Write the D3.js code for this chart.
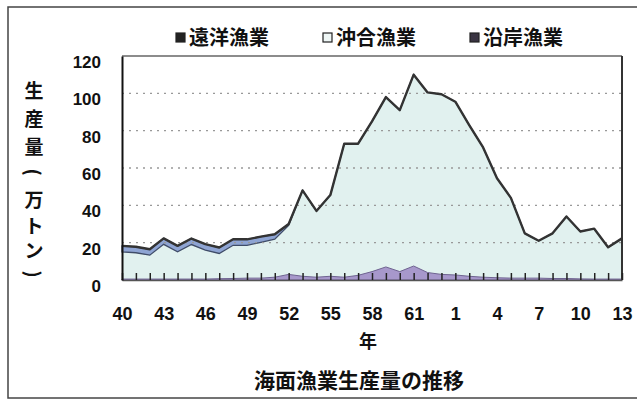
<!DOCTYPE html>
<html><head><meta charset="utf-8">
<script src="https://cdn.jsdelivr.net/npm/d3@7"></script>
<style>
  body { margin: 0; background: #fff; }
  text { font-family: "Liberation Sans", Arial, sans-serif; }
  .jp { font-family: "Noto Sans CJK JP", sans-serif; font-weight: 700; }
</style>
</head><body>
<svg id="chart" width="637" height="405"></svg>
<script>
// Fiscal years: Showa 40–63, then Heisei 1–13
const years = ["40","41","42","43","44","45","46","47","48","49","50","51","52","53","54","55","56","57","58","59","60","61","62","63",
               "1","2","3","4","5","6","7","8","9","10","11","12","13"];
const labelYears = ["40","43","46","49","52","55","58","61","1","4","7","10","13"];

// Production, 万トン
const distant  = [3.2,3.2,3.2,3.2,3.2,3.2,3.2,3.2,3.2,3.2,3.0,2.6,0.8,0,0,0,0,0,0,0,0,0,0,0,
                  0,0,0,0,0,0,0,0,0,0,0,0,0];
const offshore = [14.6,14.1,12.8,18.6,14.6,18.5,15.5,13.5,17.8,17.6,19.2,20.4,26.2,46,35.5,43.5,71.5,70.5,80.5,91,86.5,102.5,96.5,96.5,
                  92.8,81,69.5,53.3,43,24,20,24.2,33.2,25.4,27,17,21.8];
const coastal  = [0.5,0.5,0.5,0.5,0.5,0.5,0.5,0.7,0.8,1,1,1.5,3,2,1.5,2,1.5,2.5,4.5,7,4.5,7.5,4,3,
                  2.7,2,1.5,1.2,1,1,1,0.8,0.8,0.6,0.5,0.5,0.5];
const yTicks = [0,20,40,60,80,100,120];

const seriesNames = ["遠洋漁業","沖合漁業","沿岸漁業"];

const rows = years.map((yr, i) => ({ year: yr, coastal: coastal[i], offshore: offshore[i], distant: distant[i] }));

const svg = d3.select("#chart");
const plotL = 122, plotR = 622, plotT = 56, plotB = 280;

const x = d3.scalePoint().domain(years).range([plotL, plotR]);
const y = d3.scaleLinear().domain([0, 120]).range([plotB, plotT]);

// outer frame
svg.append("rect").attr("x", 8).attr("y", 7).attr("width", 640).attr("height", 391)
  .attr("fill", "none").attr("stroke", "#444").attr("stroke-width", 1.5);

// stacked layers: coastal at the bottom, offshore, then distant-water on top
const stack = d3.stack().keys(["coastal", "offshore", "distant"]);
const layers = stack(rows);
const area = d3.area().x(d => x(d.data.year)).y0(d => y(d[0])).y1(d => y(d[1]));

const g = svg.append("g");
// offshore (light)
g.append("path").datum(layers[1]).attr("d", area).attr("fill", "#e1f1ef");
// coastal (purple)
g.append("path").datum(layers[0]).attr("d", area).attr("fill", "#a798cb")
  .attr("stroke", "#6e6390").attr("stroke-width", 1);
// distant-water band
g.append("path").datum(layers[2]).attr("d", area).attr("fill", "#8ea4d3")
  .attr("stroke", "#3f4c68").attr("stroke-width", 1.3);

// dotted gridlines
svg.append("g").selectAll("line").data(yTicks.filter(v => v > 0 && v < 120)).join("line")
  .attr("x1", plotL).attr("x2", plotR).attr("y1", d => y(d)).attr("y2", d => y(d))
  .attr("stroke", "#999").attr("stroke-width", 1.3).attr("stroke-dasharray", "2,5");

// total outline
const totalLine = d3.line().x(d => x(d.data.year)).y(d => y(d[1]));
svg.append("path").datum(layers[2]).attr("d", totalLine).attr("fill", "none")
  .attr("stroke", "#333").attr("stroke-width", 2.4).attr("stroke-linejoin", "round");

// plot frame: top and right
svg.append("line").attr("x1", plotL).attr("x2", plotR).attr("y1", plotT).attr("y2", plotT)
  .attr("stroke", "#666").attr("stroke-width", 1.5);
svg.append("line").attr("x1", plotR).attr("x2", plotR).attr("y1", plotT).attr("y2", plotB)
  .attr("stroke", "#333").attr("stroke-width", 2);

// x axis: tick marks every year, labels every 3 years
const xAxis = svg.append("g").attr("transform", `translate(0,${plotB})`)
  .call(d3.axisBottom(x).tickSize(-7).tickSizeOuter(0)
    .tickFormat(d => labelYears.includes(d) ? d : "").tickPadding(27));
xAxis.select(".domain").attr("stroke", "#555").attr("stroke-width", 1.5);
xAxis.selectAll(".tick line").attr("stroke", "#222").attr("stroke-width", 1.5);
xAxis.selectAll("text").attr("font-size", 18).attr("font-weight", 700).attr("fill", "#111")
  .attr("font-family", "'Liberation Sans', Arial, sans-serif");

// y axis
const yAxis = svg.append("g").attr("transform", `translate(${plotL},0)`)
  .call(d3.axisLeft(y).tickValues(yTicks).tickSize(0).tickPadding(21));
yAxis.select(".domain").attr("stroke", "#111").attr("stroke-width", 2);
yAxis.selectAll("text").attr("font-size", 17).attr("font-weight", 700).attr("fill", "#111")
  .attr("font-family", "'Liberation Sans', Arial, sans-serif")
  .attr("transform", "translate(0,6)");

// vertical axis title, with the brackets turned for vertical writing
const yTitle = ["生","産","量","(","万","ト","ン",")"];
const yTitlePos = [89, 117, 145, 172, 198, 224, 249, 274];
const tx = 34;
svg.append("g").selectAll("text").data(yTitle).join("text").attr("class", "jp")
  .attr("x", tx).attr("y", (d, i) => yTitlePos[i]).attr("text-anchor", "middle")
  .attr("dominant-baseline", "central").attr("font-size", 19).attr("fill", "#111")
  .attr("transform", (d, i) => (d === "(" || d === ")") ? `rotate(90,${tx},${yTitlePos[i]})` : null)
  .text(d => d);

// x axis title and chart title
svg.append("text").attr("class", "jp").attr("x", 368).attr("y", 348).attr("text-anchor", "middle")
  .attr("font-size", 18).attr("fill", "#111").text("年");
svg.append("text").attr("class", "jp").attr("x", 359).attr("y", 388).attr("text-anchor", "middle")
  .attr("font-size", 21).attr("fill", "#111").text("海面漁業生産量の推移");

// legend
const legendX = [176, 323, 470];
const legendFill = ["#222", "#eef6f5", "#3a3442"];
const lg = svg.append("g").selectAll("g").data(seriesNames).join("g")
  .attr("transform", (d, i) => `translate(${legendX[i]},0)`);
lg.append("rect").attr("x", 0).attr("y", 33).attr("width", 9).attr("height", 9)
  .attr("fill", (d, i) => legendFill[i]).attr("stroke", "#222").attr("stroke-width", 1.2);
lg.append("text").attr("class", "jp").attr("x", 13).attr("y", 45).attr("font-size", 20)
  .attr("fill", "#111").text(d => d);
</script>
</body></html>
